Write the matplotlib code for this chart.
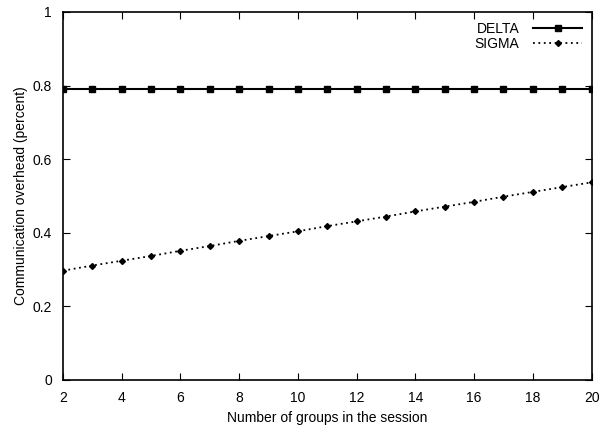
import matplotlib
matplotlib.use("Agg")
import matplotlib.pyplot as plt

groups = list(range(2, 21))
delta = [0.79] * 19
sigma = [0.297, 0.311, 0.324, 0.337, 0.351, 0.364, 0.378, 0.391, 0.404, 0.418,
         0.431, 0.444, 0.458, 0.471, 0.484, 0.498, 0.511, 0.524, 0.537]

plt.rcParams['font.family'] = ['Liberation Sans', 'DejaVu Sans']
plt.rcParams['font.size'] = 10

fig = plt.figure(figsize=(6.02, 4.30), dpi=100)
ax = fig.add_axes([0.1047, 0.1163, 0.878, 0.856])

ax.plot(groups, delta, color='black', lw=1.5, marker='s', ms=4, label='DELTA')
ax.plot(groups, sigma, color='black', lw=1.3, ls=(0, (1, 2)), marker='D', ms=3, label='SIGMA')

ax.set_xlim(2, 20)
ax.set_ylim(0, 1)
ax.set_xticks(range(2, 21, 2))
ax.set_yticks([0, 0.2, 0.4, 0.6, 0.8, 1])
ax.set_yticklabels(['0', '0.2', '0.4', '0.6', '0.8', '1'])
ax.tick_params(direction='in', top=True, right=True, length=5, width=0.8)
ax.tick_params(axis='x', pad=8)
ax.tick_params(axis='y', pad=8)
for s in ax.spines.values():
    s.set_linewidth(1.2)

ax.set_xlabel('Number of groups in the session', labelpad=4)
ax.set_ylabel('Communication overhead (percent)', labelpad=3)

ax.legend(loc='upper right', frameon=False, markerfirst=False, handlelength=3.5,
          borderaxespad=0.3, labelspacing=0.1, handletextpad=1.0)

fig.savefig('out.png', dpi=100)
